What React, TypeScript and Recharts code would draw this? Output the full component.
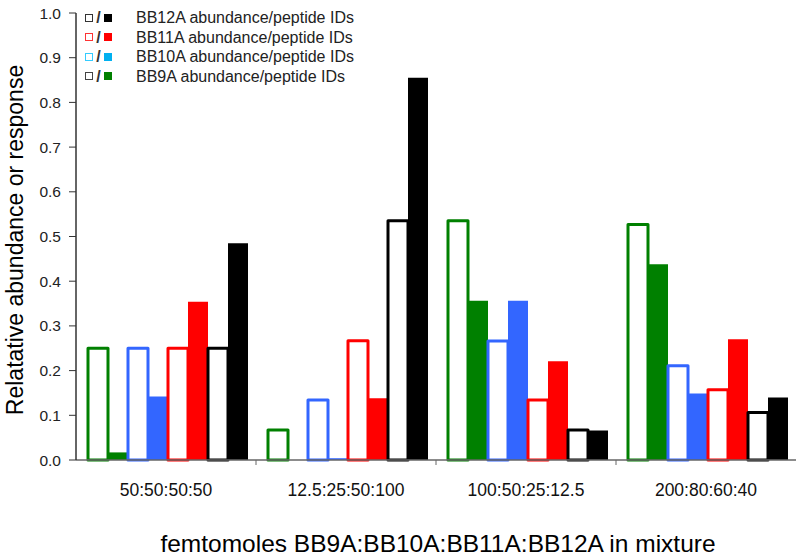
import { BarChart, Bar, XAxis, YAxis, Legend } from "recharts";

const categories = ["50:50:50:50", "12.5:25:50:100", "100:50:25:12.5", "200:80:60:40"];
const bb9aAbundance = [0.25, 0.067, 0.535, 0.527];
const bb9aPeptides = [0.017, 0, 0.356, 0.438];
const bb10aAbundance = [0.25, 0.134, 0.266, 0.211];
const bb10aPeptides = [0.142, 0.004, 0.356, 0.149];
const bb11aAbundance = [0.25, 0.267, 0.134, 0.157];
const bb11aPeptides = [0.354, 0.138, 0.221, 0.27];
const bb12aAbundance = [0.25, 0.535, 0.067, 0.106];
const bb12aPeptides = [0.485, 0.855, 0.066, 0.14];
const yTicks = [0, 0.1, 0.2, 0.3, 0.4, 0.5, 0.6, 0.7, 0.8, 0.9, 1.0];

const legendItems = [
  { label: "BB12A abundance/peptide IDs", open: "#333333", filled: "#000000" },
  { label: "BB11A abundance/peptide IDs", open: "#ff3333", filled: "#ff0000" },
  { label: "BB10A abundance/peptide IDs", open: "#33ccff", filled: "#00b0f0" },
  { label: "BB9A abundance/peptide IDs", open: "#444444", filled: "#008000" },
];

const data = categories.map((name, i) => ({
  name,
  bb9aA: bb9aAbundance[i],
  bb9aP: bb9aPeptides[i],
  bb10aA: bb10aAbundance[i],
  bb10aP: bb10aPeptides[i],
  bb11aA: bb11aAbundance[i],
  bb11aP: bb11aPeptides[i],
  bb12aA: bb12aAbundance[i],
  bb12aP: bb12aPeptides[i],
}));

const FONT = '"Liberation Sans", Arial, sans-serif';
const W = 800;
const H = 557;
const LEFT = 76;
const RIGHT_M = 4;
const HALF_BAND = (W - LEFT - RIGHT_M) / categories.length / 2;

const CategoryTick = (props: any) => {
  const { x, y, payload, index } = props;
  return (
    <g>
      {index > 0 && (
        <line x1={x - HALF_BAND} x2={x - HALF_BAND} y1={y} y2={y + 5} stroke="#666" strokeWidth={1} />
      )}
      <text x={x} y={y + 36} textAnchor="middle" fontSize={17.5} fontFamily={FONT} fill="#111">
        {payload.value}
      </text>
    </g>
  );
};

const LegendBox = () => (
  <div style={{ fontFamily: FONT, fontSize: 16, color: "#222", lineHeight: "19.5px" }}>
    {legendItems.map((it) => (
      <div key={it.label} style={{ display: "flex", alignItems: "center", height: 19.5 }}>
        <span
          style={{
            display: "inline-block",
            width: 6,
            height: 6,
            border: `1.5px solid ${it.open}`,
            background: "#fff",
          }}
        />
        <span style={{ display: "inline-block", width: 11, textAlign: "center", color: "#333", fontWeight: "bold" }}>/</span>
        <span style={{ display: "inline-block", width: 8, height: 8, background: it.filled }} />
        <span style={{ marginLeft: 24 }}>{it.label}</span>
      </div>
    ))}
  </div>
);

const openBar = (color: string) => ({
  fill: "#ffffff",
  stroke: color,
  strokeWidth: 3,
  strokeLinejoin: "round" as const,
});

export default function App() {
  return (
    <div style={{ position: "absolute", left: 0, top: 0, width: W, height: H, background: "#fff" }}>
      <BarChart
        width={W}
        height={H}
        data={data}
        margin={{ top: 13, right: RIGHT_M, bottom: 0, left: 0 }}
        barGap={0}
        barCategoryGap={12}
      >
        <XAxis
          dataKey="name"
          tickSize={0}
          tickMargin={0}
          tick={<CategoryTick />}
          axisLine={{ stroke: "#666", strokeWidth: 1.5 }}
          interval={0}
          height={97}
          label={(p: any) => (
            <text x={438} y={552} textAnchor="middle" fontSize={24.5} fontFamily={FONT} fill="#000">
              femtomoles BB9A:BB10A:BB11A:BB12A in mixture
            </text>
          )}
        />
        <YAxis
          width={LEFT}
          domain={[0, 1]}
          ticks={yTicks}
          interval={0}
          tickFormatter={(v: number) => v.toFixed(1)}
          tickSize={7}
          tickMargin={8}
          tick={{ fontSize: 15.5, fontFamily: FONT, fill: "#222" }}
          tickLine={{ stroke: "#333" }}
          axisLine={{ stroke: "#333", strokeWidth: 1.5 }}
          label={(p: any) => (
            <text
              x={23}
              y={240}
              transform="rotate(-90 23 240)"
              textAnchor="middle"
              fontSize={23}
              fontFamily={FONT}
              fill="#000"
            >
              Relatative abundance or response
            </text>
          )}
        />
        <Legend
          layout="horizontal"
          verticalAlign="middle"
          align="center"
          content={<LegendBox />}
          wrapperStyle={{ position: "absolute", top: 8, left: 85, width: 340 }}
        />
        <Bar dataKey="bb9aA" {...openBar("#008000")} isAnimationActive={false} />
        <Bar dataKey="bb9aP" fill="#008000" isAnimationActive={false} />
        <Bar dataKey="bb10aA" {...openBar("#3366ff")} isAnimationActive={false} />
        <Bar dataKey="bb10aP" fill="#3366ff" isAnimationActive={false} />
        <Bar dataKey="bb11aA" {...openBar("#ff0000")} isAnimationActive={false} />
        <Bar dataKey="bb11aP" fill="#ff0000" isAnimationActive={false} />
        <Bar dataKey="bb12aA" {...openBar("#000000")} isAnimationActive={false} />
        <Bar dataKey="bb12aP" fill="#000000" isAnimationActive={false} />
      </BarChart>
    </div>
  );
}
